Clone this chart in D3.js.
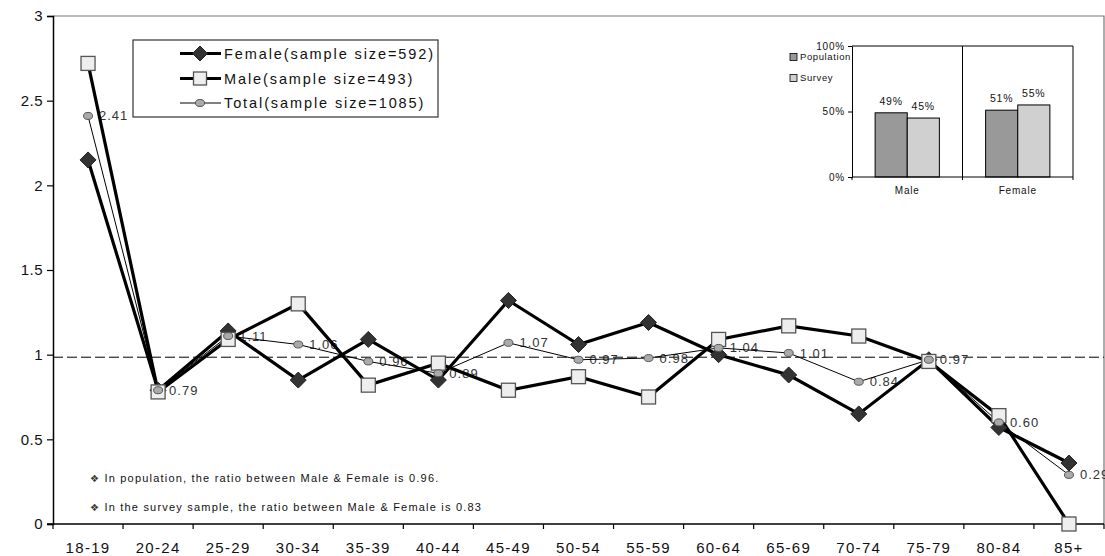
<!DOCTYPE html>
<html><head><meta charset="utf-8">
<script src="https://cdn.jsdelivr.net/npm/d3@7"></script>
<style>
body{margin:0;background:#fff;}
svg{display:block;font-family:"Liberation Sans",Arial,sans-serif;}
</style></head>
<body><svg id="c" width="1105" height="556"></svg>
<script>
const categories = ["18-19","20-24","25-29","30-34","35-39","40-44","45-49","50-54","55-59","60-64","65-69","70-74","75-79","80-84","85+"];
const female = [2.15,0.79,1.14,0.85,1.09,0.85,1.32,1.06,1.19,1.00,0.88,0.65,0.97,0.57,0.36];
const male   = [2.72,0.78,1.09,1.30,0.82,0.95,0.79,0.87,0.75,1.09,1.17,1.11,0.96,0.64,0.00];
const total  = [2.41,0.79,1.11,1.06,0.96,0.89,1.07,0.97,0.98,1.04,1.01,0.84,0.97,0.60,0.29];
const yTicks = [0,0.5,1,1.5,2,2.5,3];
const refLine = 0.985;
const legendLabels = ["Female(sample size=592)","Male(sample size=493)","Total(sample size=1085)"];
const notes = ["In population, the ratio between Male & Female is 0.96.","In the survey sample, the ratio between Male & Female is 0.83"];
// inset
const insetCats = ["Male","Female"];
const insetSeries = ["Population","Survey"];
const insetPop = [49,51];
const insetSurvey = [45,55];
const insetTicks = [0,50,100];

const svg = d3.select("#c");
const x = d3.scaleBand().domain(categories).range([53,1104]);
const y = d3.scaleLinear().domain([0,3]).range([524,16]);
const cx = d => x(d)+x.bandwidth()/2;

// frame: top + right gray
svg.append("path").attr("d",`M53,${y(3)}H1104V${y(0)}`).attr("fill","none").attr("stroke","#777").attr("stroke-width",1.2);

// y axis
const ya = svg.append("g").attr("transform","translate(53,0)")
 .call(d3.axisLeft(y).tickValues(yTicks).tickSize(6).tickFormat(d=>String(d)));
ya.select(".domain").attr("stroke","#000").attr("stroke-width",1.5);
ya.selectAll(".tick line").attr("stroke","#000").attr("stroke-width",1.2);
ya.selectAll(".tick text").attr("font-size",15).attr("font-family","Liberation Sans, Arial").attr("fill","#111").attr("x",-10).attr("letter-spacing",0.5);

// x axis
const xa = svg.append("g").attr("transform",`translate(0,${y(0)})`)
 .call(d3.axisBottom(x).tickSize(0).tickPadding(18));
xa.select(".domain").attr("stroke","#000").attr("stroke-width",1.5).attr("d","M47,0H1104");
xa.selectAll(".tick text").attr("font-size",15).attr("font-family","Liberation Sans, Arial").attr("fill","#111").attr("letter-spacing",1.3);
const bounds = categories.map(c=>x(c)).concat([x.range()[1]]);
xa.selectAll("line.bt").data(bounds).join("line").attr("class","bt")
  .attr("x1",d=>d).attr("x2",d=>d).attr("y1",0).attr("y2",5).attr("stroke","#000").attr("stroke-width",1.2);

// reference dashed line
svg.append("line").attr("x1",53).attr("x2",1104).attr("y1",y(refLine)).attr("y2",y(refLine))
 .attr("stroke","#000").attr("stroke-width",1).attr("stroke-dasharray","10,4");

// notes
notes.forEach((t,i)=>{
  const g = svg.append("text").attr("x",90).attr("y",478+i*29).attr("dy","0.35em").attr("font-size",11).attr("letter-spacing",1.2).attr("fill","#111");
  g.append("tspan").attr("font-family","DejaVu Sans").attr("font-size",10).attr("fill","#333").text("\u2756");
  g.append("tspan").text(" "+t);
});

// data labels (under lines)
svg.append("g").selectAll("text").data(total).join("text")
  .attr("x",(d,i)=>cx(categories[i])+11).attr("y",d=>y(d)).attr("dy","0.35em")
  .attr("font-size",13).attr("letter-spacing",1).attr("fill","#333")
  .text(d=>d.toFixed(2));

const line = d3.line().x((d,i)=>cx(categories[i])).y(d=>y(d));
svg.append("path").datum(female).attr("d",line).attr("fill","none").attr("stroke","#000").attr("stroke-width",3.2);
svg.append("path").datum(male).attr("d",line).attr("fill","none").attr("stroke","#000").attr("stroke-width",3.2);
svg.append("path").datum(total).attr("d",line).attr("fill","none").attr("stroke","#000").attr("stroke-width",1);

const diamond = (g,px,py,r)=>g.append("path").attr("d",`M${px},${py-r}L${px+r},${py}L${px},${py+r}L${px-r},${py}Z`).attr("fill","#333").attr("stroke","#222").attr("stroke-width",1);
const square = (g,px,py,s)=>g.append("rect").attr("x",px-s/2).attr("y",py-s/2).attr("width",s).attr("height",s).attr("fill","#eeeeee").attr("stroke","#555").attr("stroke-width",1.3);
const circ = (g,px,py)=>g.append("ellipse").attr("cx",px).attr("cy",py).attr("rx",4.5).attr("ry",3.5).attr("fill","#aaa").attr("stroke","#555").attr("stroke-width",1);

const mk = svg.append("g");
female.forEach((v,i)=>diamond(mk,cx(categories[i]),y(v),8));
male.forEach((v,i)=>square(mk,cx(categories[i]),y(v),14));
total.forEach((v,i)=>circ(mk,cx(categories[i]),y(v)));

// legend
const lg = svg.append("g");
lg.append("rect").attr("x",133).attr("y",40).attr("width",305).attr("height",77).attr("fill","#fff").attr("stroke","#333").attr("stroke-width",1.2);
const ly = [53.5,78.5,103];
legendLabels.forEach((t,i)=>{
  lg.append("line").attr("x1",180).attr("x2",221).attr("y1",ly[i]).attr("y2",ly[i]).attr("stroke","#000").attr("stroke-width",i<2?3.2:1);
  if(i===0) diamond(lg,200,ly[i],7.5);
  else if(i===1) square(lg,200,ly[i],13);
  else circ(lg,200,ly[i]);
  lg.append("text").attr("x",224).attr("y",ly[i]).attr("dy","0.36em").attr("font-size",14.5).attr("letter-spacing",1.9).attr("fill","#111").text(t);
});

// inset chart
const ix = d3.scaleBand().domain(insetCats).range([852,1073]);
const isub = d3.scaleBand().domain(insetSeries).range([0,ix.bandwidth()]).paddingOuter(0.72).paddingInner(0);
const iy = d3.scaleLinear().domain([0,100]).range([177,46]);
const ig = svg.append("g");
const insetData = insetCats.map((c,i)=>({c, vals:[insetPop[i],insetSurvey[i]]}));
const fills = ["#999999","#d0d0d0"];
insetData.forEach(d=>{
  d.vals.forEach((v,j)=>{
    const bx = ix(d.c)+isub(insetSeries[j]);
    ig.append("rect").attr("x",bx).attr("y",iy(v)).attr("width",isub.bandwidth()).attr("height",iy(0)-iy(v))
      .attr("fill",fills[j]).attr("stroke","#000").attr("stroke-width",1);
    ig.append("text").attr("x",bx+isub.bandwidth()/2).attr("y",iy(v)-8).attr("text-anchor","middle")
      .attr("font-size",10.5).attr("letter-spacing",0.8).attr("fill","#111").text(v+"%");
  });
});
ig.append("path").attr("d",`M852,46H1073V177`).attr("fill","none").attr("stroke","#000").attr("stroke-width",1);
ig.append("line").attr("x1",ix("Female")).attr("x2",ix("Female")).attr("y1",46).attr("y2",180).attr("stroke","#000").attr("stroke-width",1);
const iya = ig.append("g").attr("transform","translate(852,0)").call(d3.axisLeft(iy).tickValues(insetTicks).tickSize(4).tickFormat(d=>d+"%"));
iya.select(".domain").attr("stroke","#000");
iya.selectAll(".tick text").attr("font-size",10).attr("letter-spacing",0.8).attr("font-family","Liberation Sans, Arial").attr("fill","#111");
const ixa = ig.append("g").attr("transform","translate(0,177)").call(d3.axisBottom(ix).tickSize(0).tickPadding(10));
ixa.select(".domain").attr("stroke","#000").attr("d","M852,0H1073");
ixa.selectAll(".tick text").attr("font-size",10).attr("letter-spacing",0.8).attr("font-family","Liberation Sans, Arial").attr("fill","#111");
[852,1073].forEach(v=>ig.append("line").attr("x1",v).attr("x2",v).attr("y1",177).attr("y2",180).attr("stroke","#000"));
// inset legend
insetSeries.forEach((s,j)=>{
  const yy = 57+j*21;
  ig.append("rect").attr("x",790).attr("y",yy-3.5).attr("width",7).attr("height",7).attr("fill",fills[j]).attr("stroke","#000").attr("stroke-width",0.8);
  ig.append("text").attr("x",800).attr("y",yy).attr("dy","0.35em").attr("font-size",9.5).attr("letter-spacing",0.6).attr("fill","#111").text(s);
});
</script></body></html>
